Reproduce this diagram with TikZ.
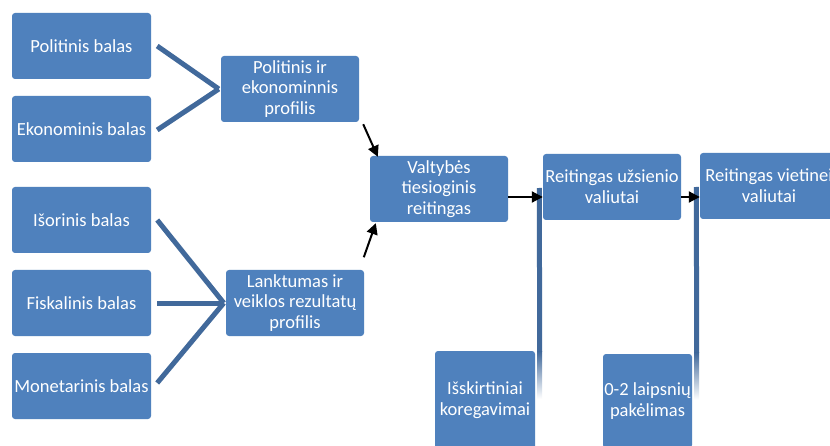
\documentclass[tikz,border=0pt]{standalone}
\usepackage{fontspec}
\setmainfont{Carlito}
\usetikzlibrary{arrows.meta}
\definecolor{boxblue}{HTML}{4F81BD}
\definecolor{conn}{HTML}{41699B}
\begin{document}
\begin{tikzpicture}[x=1pt,y=1pt,
  box/.style={fill=boxblue, rounded corners=3pt, text=white, align=center,
    font=\fontsize{18.5}{20.7}\selectfont, inner sep=1pt},
  bw/.style={minimum width=139pt, minimum height=66pt},
  link/.style={conn, line width=5pt},
  arr/.style={black, line width=2pt, -{Triangle[length=11pt,width=11pt]}}]
\useasboundingbox (0,0) rectangle (830,445);
\clip (0,0) rectangle (830,445);
\fill[white] (0,0) rectangle (830,445);
% left boxes
\node[box,bw] (pb) at (81.5,399) {Politinis balas};
\node[box,bw] (eb) at (81.5,316) {Ekonominis balas};
\node[box,bw] (ib) at (81.5,225) {Išorinis balas};
\node[box,bw] (fb) at (81.5,142) {Fiskalinis balas};
\node[box,bw] (mb) at (81.5,59) {Monetarinis balas};
% profiles
\node[box,minimum width=138pt,minimum height=66pt] (pe) at (290,356) {Politinis ir\\ekonominnis\\profilis};
\node[box,minimum width=138pt,minimum height=66pt] (lr) at (295,142) {Lanktumas ir\\veiklos rezultatų\\profilis};
% ratings
\node[box,minimum width=138pt,minimum height=66pt] (vt) at (439,256) {Valtybės\\tiesioginis\\reitingas};
\node[box,minimum width=138pt,minimum height=66pt] (ru) at (612,258) {Reitingas užsienio\\valiutai};
\node[box,minimum width=138pt,minimum height=66pt] (rv) at (769,259) {Reitingas vietinei\\valiutai};
% adjustments
\node[box,minimum width=100pt,minimum height=98pt] (is) at (485,45) {Išskirtiniai\\koregavimai};
\node[box,minimum width=89pt,minimum height=94pt] (lp) at (647.5,44) {0-2 laipsnių\\pakėlimas};
% connectors from scores
\draw[link] ([xshift=6pt]pb.east) -- ([xshift=-2pt]pe.west);
\draw[link] ([xshift=6pt,yshift=-1pt]eb.east) -- ([xshift=-2pt]pe.west);
\draw[link] ([xshift=6pt]ib.east) -- ([xshift=-2pt]lr.west);
\draw[link] ([xshift=6pt]fb.east) -- ([xshift=-2pt]lr.west);
\draw[link] ([xshift=6pt,yshift=3pt]mb.east) -- ([xshift=-2pt]lr.west);
% vertical bars
\coordinate (b1top) at ([xshift=-3.5pt,yshift=-1pt]ru.west);
\coordinate (b2top) at ([xshift=-3.5pt,yshift=-1pt]rv.west);
\draw[link] ([xshift=4.5pt,yshift=-1pt]is.north east) -- (b1top);
\draw[link] ([xshift=4.5pt,yshift=1pt]lp.north east) -- (b2top);
\shade[top color=conn, bottom color=white] ([xshift=2pt,yshift=-1pt]is.north east) rectangle ([xshift=7pt,yshift=-48pt]is.north east);
\shade[top color=conn, bottom color=white] ([xshift=2pt,yshift=1pt]lp.north east) rectangle ([xshift=7pt,yshift=-46pt]lp.north east);
% arrows
\draw[arr] ([shift={(4pt,-2pt)}]pe.south east) -- ([shift={(8pt,-1pt)}]vt.north west);
\draw[arr] ([shift={(-6pt,-35pt)}]vt.south west) -- ([shift={(6pt,-1pt)}]vt.south west);
\draw[arr] ([yshift=-8pt]vt.east) -- ([yshift=-10pt]ru.west);
\draw[arr] ([yshift=-10pt]ru.east) -- ([yshift=-11pt]rv.west);
\end{tikzpicture}
\end{document}
